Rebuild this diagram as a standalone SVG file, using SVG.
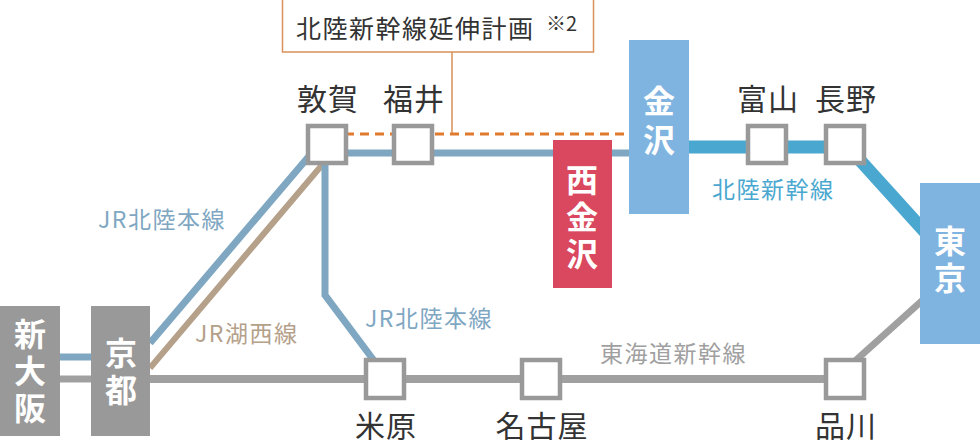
<svg xmlns="http://www.w3.org/2000/svg" width="980" height="440" viewBox="0 0 980 440">
<style>
text{font-family:"Noto Sans CJK JP","Noto Sans",sans-serif}
.st{fill:#fff;stroke:#999;stroke-width:4.5}
.nm{font-size:30px;fill:#333;text-anchor:middle;letter-spacing:1px}
.big{font-size:32px;font-weight:bold;fill:#fff;text-anchor:middle}
.ln{font-size:23px;letter-spacing:1.5px}
</style>
<rect width="980" height="440" fill="#fff"/>
<g id="connectors" fill="none">
<line x1="452" y1="52" x2="452" y2="134" stroke="#d9905a" stroke-width="1.5"/>
<line x1="345" y1="134" x2="629" y2="134" stroke="#e07a2e" stroke-width="3" stroke-dasharray="9,6"/>
<line x1="327" y1="153" x2="629" y2="153" stroke="#7fa7c2" stroke-width="7"/>
<line x1="689" y1="147" x2="845" y2="147" stroke="#4aa8d0" stroke-width="13"/>
<line x1="858" y1="158" x2="925" y2="232" stroke="#4aa8d0" stroke-width="13"/>
<line x1="925" y1="298" x2="845" y2="370" stroke="#a0a0a0" stroke-width="7"/>
<line x1="150" y1="379" x2="845" y2="379" stroke="#a0a0a0" stroke-width="8"/>
<line x1="60" y1="357" x2="91" y2="357" stroke="#7fa7c2" stroke-width="7"/>
<line x1="60" y1="379" x2="91" y2="379" stroke="#a0a0a0" stroke-width="7"/>
<line x1="150" y1="343" x2="310" y2="155" stroke="#7fa7c2" stroke-width="7"/>
<line x1="150" y1="368" x2="322" y2="165" stroke="#b5a08a" stroke-width="6"/>
<polyline points="325,160 325,295 375,362" stroke="#7fa7c2" stroke-width="7"/>
</g>
<g id="callout"><rect x="282.5" y="-1" width="311" height="53" fill="#fff" stroke="#d9905a" stroke-width="1.5"/>
<text x="296" y="38" font-size="25" fill="#333" letter-spacing="1.5">北陸新幹線延伸計画</text><text x="546" y="31" font-size="20" fill="#333">※2</text></g>
<g id="tsuruga"><rect class="st" x="308" y="126" width="38" height="37"/><text class="nm" x="328" y="110">敦賀</text></g>
<g id="fukui"><rect class="st" x="394" y="126" width="38" height="37"/><text class="nm" x="414" y="110">福井</text></g>
<g id="toyama"><rect class="st" x="748" y="126" width="38" height="37"/><text class="nm" x="768" y="110">富山</text></g>
<g id="nagano"><rect class="st" x="826" y="126" width="38" height="37"/><text class="nm" x="846" y="110">長野</text></g>
<g id="maibara"><rect class="st" x="366" y="360" width="38" height="38"/><text class="nm" x="386" y="437">米原</text></g>
<g id="nagoya"><rect class="st" x="522" y="360" width="38" height="38"/><text class="nm" x="542" y="437">名古屋</text></g>
<g id="shinagawa"><rect class="st" x="826" y="360" width="38" height="38"/><text class="nm" x="846" y="437">品川</text></g>
<g id="kanazawa"><rect x="629" y="40" width="60" height="174" fill="#7fb3e0"/><text class="big" x="659" y="113">金</text><text class="big" x="659" y="152">沢</text></g>
<g id="nishikanazawa"><rect x="553" y="140" width="59" height="148" fill="#d9485e"/><text class="big" x="582" y="192">西</text><text class="big" x="582" y="229">金</text><text class="big" x="582" y="266">沢</text></g>
<g id="tokyo"><rect x="920" y="183" width="60" height="161" fill="#7fb3e0"/><text class="big" x="950" y="253">東</text><text class="big" x="950" y="290">京</text></g>
<g id="shinosaka"><rect x="0" y="306" width="60" height="130" fill="#999"/><text class="big" x="30" y="346">新</text><text class="big" x="30" y="383">大</text><text class="big" x="30" y="420">阪</text></g>
<g id="kyoto"><rect x="91" y="306" width="59" height="130" fill="#999"/><text class="big" x="121" y="365">京</text><text class="big" x="121" y="402">都</text></g>
<g id="labels">
<text class="ln" x="98" y="228" fill="#7fa7c2">JR北陸本線</text>
<text class="ln" x="195" y="342" fill="#b5a08a">JR湖西線</text>
<text class="ln" x="365" y="327" fill="#7fa7c2">JR北陸本線</text>
<text class="ln" x="712" y="198" fill="#4aa8d0">北陸新幹線</text>
<text class="ln" x="600" y="362" fill="#a0a0a0">東海道新幹線</text>
</g>
</svg>
